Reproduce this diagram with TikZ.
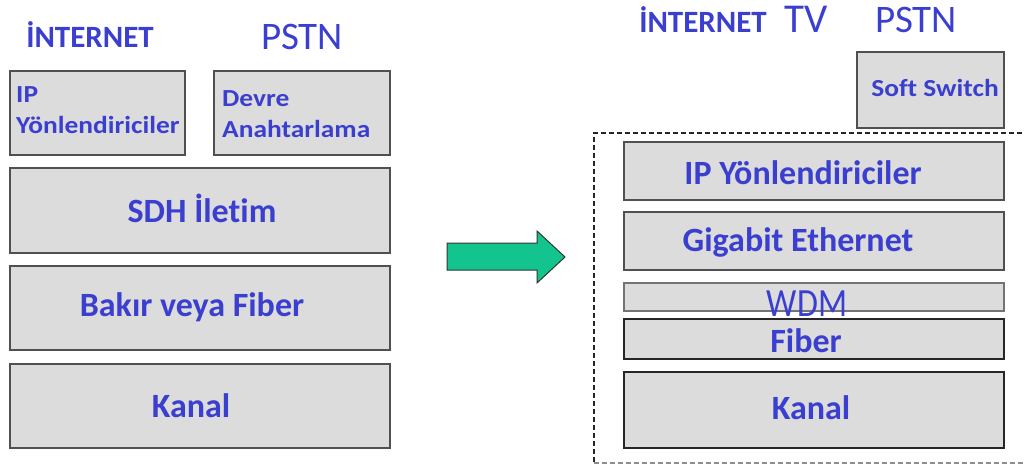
\documentclass[tikz,border=0pt]{standalone}
\usepackage{fontspec}
\setmainfont[Ligatures=NoCommon]{Carlito}
\newfontfamily\widefont[FakeStretch=1.12,Ligatures=NoCommon]{Carlito}
\newfontfamily\narrowfont[FakeStretch=0.85]{Carlito}
\definecolor{txtblue}{HTML}{3B3FCF}
\definecolor{boxfill}{HTML}{DCDCDC}
\definecolor{boxline}{HTML}{505050}
\definecolor{arrowgreen}{HTML}{14C48E}
\tikzset{
  layerbox/.style={draw=boxline, line width=1.3pt, fill=boxfill},
  lbl/.style={text=txtblue, font=\bfseries, anchor=base, inner sep=0pt},
  bigtxt/.style={lbl, font=\bfseries\fontsize{34}{34}\selectfont},
  smalltxt/.style={lbl, anchor=base west, font=\widefont\bfseries\fontsize{24.5}{24.5}\selectfont},
}
\begin{document}
\begin{tikzpicture}[x=1pt,y=-1pt]
\useasboundingbox (0,0) rectangle (1024,465);
% left side
\node[lbl, font=\bfseries\fontsize{31}{31}\selectfont] (linet) at (90,48) {İNTERNET};
\node[lbl, font=\fontsize{39}{39}\selectfont] (lpstn) at (302,50) {PSTN};
\draw[layerbox] (10,71) rectangle (185,155);
\draw[layerbox] (214,71) rectangle (390,155);
\draw[layerbox] (10,168) rectangle (390,253);
\draw[layerbox] (10,266) rectangle (390,350);
\draw[layerbox] (10,364) rectangle (390,448);
\node[smalltxt] (lip1) at (16,103) {IP};
\node[smalltxt] (lip2) at (16,134) {Yönlendiriciler};
\node[smalltxt] (ldev1) at (222,107) {Devre};
\node[smalltxt] (ldev2) at (222,138) {Anahtarlama};
\node[bigtxt] (lsdh) at (202,222) {SDH İletim};
\node[bigtxt] (lbak) at (192,316) {Bakır veya Fiber};
\node[bigtxt] (lkan) at (191,417) {Kanal};
% arrow
\draw[fill=arrowgreen, draw=black!80, line width=1pt, line join=miter]
  (447,243) -- (537,243) -- (537,231) -- (565,257) -- (537,283) -- (537,270) -- (447,270) -- cycle;
% right side
\node[lbl, font=\bfseries\fontsize{31}{31}\selectfont] (rinet) at (703,33) {İNTERNET};
\node[lbl, font=\fontsize{41}{41}\selectfont] (rtv) at (806,33) {TV};
\node[lbl, font=\fontsize{39}{39}\selectfont] (rpstn) at (916,33) {PSTN};
\draw[layerbox] (857,52) rectangle (1004,128);
\node[lbl, font=\widefont\bfseries\fontsize{24.5}{24.5}\selectfont] (soft) at (935,97) {Soft Switch};
\draw[dashed, line width=1.2pt, black!85, dash pattern=on 5pt off 3pt] (1030,133) -- (594,133) -- (594,463);
\draw[dashed, line width=1.2pt, black!45, dash pattern=on 5pt off 3pt] (594,463) -- (1030,463);
\draw[layerbox] (624,142) rectangle (1004,200);
\draw[layerbox] (624,212) rectangle (1004,270);
\draw[layerbox, draw=boxline!80] (624,283) rectangle (1004,311);
\draw[layerbox, draw=black!85] (624,319) rectangle (1004,359);
\draw[layerbox, draw=black!85] (624,372) rectangle (1004,448);
\node[bigtxt] (rip) at (803,184) {IP Yönlendiriciler};
\node[bigtxt] (rgig) at (798,251) {Gigabit Ethernet};
\node[lbl, font=\narrowfont\fontsize{40}{40}\selectfont] (rwdm) at (807,316) {WDM};
\node[bigtxt] (rfib) at (806,352) {Fiber};
\node[bigtxt] (rkan) at (811,419) {Kanal};
\end{tikzpicture}
\end{document}
